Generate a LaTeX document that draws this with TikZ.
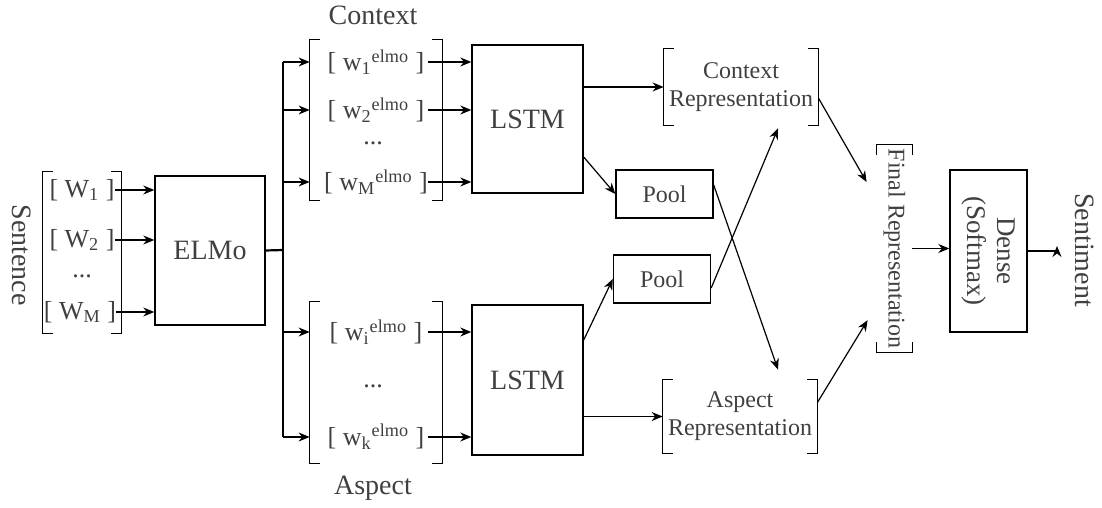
\documentclass[tikz,border=0pt]{standalone}
\usepackage{fontspec}
\setmainfont{Liberation Serif}
\usetikzlibrary{arrows.meta, positioning, calc}
\definecolor{nngray}{RGB}{64, 64, 64}

% square brackets along the west and east sides of a node (also for rotated nodes)
\newcommand{\drawbrackets}[1]{%
  \draw[brk] ($(#1.north west)!5pt!(#1.north east)$) -- (#1.north west)
    -- (#1.south west) -- ($(#1.south west)!5pt!(#1.south east)$);
  \draw[brk] ($(#1.north east)!5pt!(#1.north west)$) -- (#1.north east)
    -- (#1.south east) -- ($(#1.south east)!5pt!(#1.south west)$);}

\begin{document}
\begin{tikzpicture}[x=0.5pt, y=-0.5pt, >={Stealth[length=5.5pt, width=4.5pt]},
  block/.style={draw, line width=0.7pt, inner sep=0pt},
  grp/.style={inner sep=0pt},
  entry/.style={inner sep=0pt, font=\fontsize{13}{15}\selectfont, text=nngray},
  lbl/.style={font=\fontsize{14}{16}\selectfont, text=nngray},
  rep/.style={inner sep=0pt, align=center, font=\fontsize{12}{14}\selectfont, text=nngray},
  link/.style={->, line width=0.6pt},
  brk/.style={line width=0.7pt}]

  \useasboundingbox (0,0) rectangle (1102,508);

  % --- sentence input ---
  \node[lbl, rotate=-90] (sent) at (22,255) {Sentence};
  \node[grp, minimum width=39pt, minimum height=80.5pt] (sentgrp) at (82,252.5) {};
  \node[entry] (W1) at (82,190) {[ W\textsubscript{1} ]};
  \node[entry] (W2) at (82,240) {[ W\textsubscript{2} ]};
  \node[entry] (Wdots) at (82,276) {...};
  \node[entry] (WM) at (80,312) {[ W\textsubscript{M} ]};
  \drawbrackets{sentgrp}

  \node[block, lbl, minimum width=55pt, minimum height=74.5pt] (elmo) at (210,250.5) {ELMo};
  \foreach \w in {W1,W2,WM}
    \draw[link] (\w.east) -- (elmo.west |- \w);

  % --- context embeddings ---
  \node[lbl] (ctxlbl) at (373,15) {Context};
  \node[grp, minimum width=66pt, minimum height=80pt] (ctxgrp) at (376,120) {};
  \node[entry, minimum width=66pt] (c1) at (376,62) {[ w\textsubscript{1}\textsuperscript{elmo} ]};
  \node[entry, minimum width=66pt] (c2) at (376,110) {[ w\textsubscript{2}\textsuperscript{elmo} ]};
  \node[entry] (cdots) at (373,143) {...};
  \node[entry, minimum width=66pt] (cM) at (376,182) {[ w\textsubscript{M}\textsuperscript{elmo} ]};
  \drawbrackets{ctxgrp}

  % --- aspect embeddings ---
  \node[lbl] (asplbl) at (373,488) {Aspect};
  \node[grp, minimum width=66pt, minimum height=80.5pt] (aspgrp) at (376,382.5) {};
  \node[entry, minimum width=66pt] (ai) at (376,332) {[ w\textsubscript{i}\textsuperscript{elmo} ]};
  \node[entry] (adots) at (373,386) {...};
  \node[entry, minimum width=66pt] (ak) at (376,437) {[ w\textsubscript{k}\textsuperscript{elmo} ]};
  \drawbrackets{aspgrp}

  % --- ELMo output bus ---
  \coordinate (bus) at (283,250);
  \draw[line width=1.1pt] (elmo.east) -- (bus);
  \draw[line width=0.7pt] (bus |- c1) -- (bus |- ak);
  \foreach \e in {c1,c2,cM,ai,ak}
    \draw[link] (bus |- \e) -- (\e.west);

  % --- LSTMs ---
  \node[block, lbl, minimum width=55.5pt, minimum height=74pt] (lstm1) at (527.5,119) {LSTM};
  \node[block, lbl, minimum width=55.5pt, minimum height=75pt] (lstm2) at (527.5,380) {LSTM};
  \foreach \e in {c1,c2,cM}
    \draw[link] ([xshift=-7pt]\e.east) -- (lstm1.west |- \e);
  \foreach \e in {ai,ak}
    \draw[link] ([xshift=-7pt]\e.east) -- (lstm2.west |- \e);

  % --- pooling and representations ---
  \node[rep, minimum width=77pt, minimum height=38pt] (ctxrep) at (741,87) {Context\\Representation};
  \node[rep, minimum width=77pt, minimum height=36.5pt] (asprep) at (740,416.5) {Aspect\\Representation};
  \drawbrackets{ctxrep}
  \drawbrackets{asprep}

  \node[block, rep, draw, minimum width=48.5pt, minimum height=24pt] (pool1) at (664.5,194) {Pool};
  \node[block, rep, draw, minimum width=48.5pt, minimum height=24pt] (pool2) at (662,279) {Pool};

  \draw[link] (lstm1.east |- ctxrep.west) -- (ctxrep.west);
  \draw[link] ([yshift=-19pt]lstm1.east) -- (pool1.west);
  \draw[link] ([yshift=20pt]lstm2.east) -- (pool2.west);
  \draw[link] (lstm2.east |- asprep.west) -- (asprep.west);
  \draw[link] ([yshift=-4.5pt]pool2.east) -- ([xshift=18.5pt, yshift=-1.5pt]ctxrep.south);
  \draw[link] ([yshift=4.5pt]pool1.east) -- ([xshift=19pt, yshift=5pt]asprep.north);

  % --- final representation and classifier ---
  \node[rep, rotate=-90, minimum width=103.5pt, minimum height=17.5pt] (finrep) at (894.5,248.5) {Final Representation};
  \drawbrackets{finrep}
  \draw[link] ([yshift=-5.5pt]ctxrep.east) -- ($(finrep.south west)!0.18!(finrep.south east)+(-10,0)$);
  \draw[link] ([yshift=7pt]asprep.east) -- ($(finrep.south west)!0.845!(finrep.south east)+(-9,0)$);

  \node[block, rotate=-90, align=center, font=\fontsize{13.5}{15}\selectfont, text=nngray,
    minimum width=81pt, minimum height=38.5pt] (dense) at (988.5,251) {Dense\\(Softmax)};
  \draw[link] (finrep.north) -- (finrep.north -| dense.south);

  \node[lbl, rotate=-90] (sentiment) at (1085,250) {Sentiment};
  \coordinate (sentend) at (1057,246);
  \draw[link] (dense.north) -| (sentend);

\end{tikzpicture}
\end{document}
